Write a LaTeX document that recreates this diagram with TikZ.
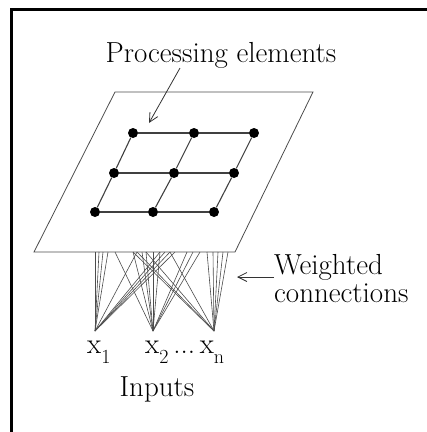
\documentclass[tikz,border=0pt]{standalone}
\usetikzlibrary{arrows.meta}
\newcommand{\lowsub}[1]{\raisebox{-10pt}{\fontsize{20}{20}\selectfont #1}}
\begin{document}
\begin{tikzpicture}[x=1pt,y=-1pt,
  pe/.style={circle,fill=black,inner sep=0pt,minimum size=10pt},
  gridline/.style={line width=1.1pt,black!75},
  plane/.style={line width=0.8pt,black!70},
  wire/.style={line width=0.6pt,black!70},
  lbl/.style={font=\fontsize{29}{28}\selectfont,inner sep=0pt},
  pointer/.style={line width=0.8pt,black!80,-{Straight Barb[length=9pt,width=9pt]}}]
\useasboundingbox (0,0) rectangle (427,432);
% frame
\draw[line width=3pt] (11,432) -- (11,9) -- (427,9);
% processing plane
\coordinate (pA) at (115,92);
\coordinate (pB) at (313,92);
\coordinate (pC) at (235,252);
\coordinate (pD) at (34,252);
\draw[plane] (pA) -- (pB) -- (pC) -- (pD) -- cycle;
% processing elements
\node[pe] (n11) at (133,133) {};
\node[pe] (n12) at (194,133) {};
\node[pe] (n13) at (254,133) {};
\node[pe] (n21) at (114,173) {};
\node[pe] (n22) at (174,173) {};
\node[pe] (n23) at (234,173) {};
\node[pe] (n31) at (95,212) {};
\node[pe] (n32) at (153,212) {};
\node[pe] (n33) at (214,212) {};
\foreach \r in {1,2,3}{
  \draw[gridline] (n\r1) -- (n\r2) -- (n\r3);
  \draw[gridline] (n1\r) -- (n2\r) -- (n3\r);
}
% inputs
\coordinate (i1) at (95,331);
\coordinate (i2) at (153,331);
\coordinate (i3) at (214,331);
\foreach \t in {95,99,103,108,137,160,165,170,175}
  \draw[wire] (i1) -- (\t,252);
\foreach \t in {115,133,142,146,153,160,187,193,200}
  \draw[wire] (i2) -- (\t,252);
\foreach \t in {133,137,146,170,207,213,218,223,228}
  \draw[wire] (i3) -- (\t,252);
% labels
\node[lbl] (pel) at (221,55) {Processing elements};
\coordinate (peTip) at (149,123);
\draw[pointer] (180,68) -- (peTip);
\node[lbl,anchor=west,align=left] (wc) at (274,279) {Weighted\\connections};
\coordinate (wcTip) at (237,277);
\draw[pointer] (wc.west |- wcTip) -- (wcTip);
\node[lbl,anchor=base west] (x1) at (87,353) {x\lowsub{1}};
\node[lbl,anchor=base west] (x2) at (145,353) {x\lowsub{2}\,...\,x\lowsub{n}};
\node[lbl] (inp) at (157,389) {Inputs};
\end{tikzpicture}
\end{document}
